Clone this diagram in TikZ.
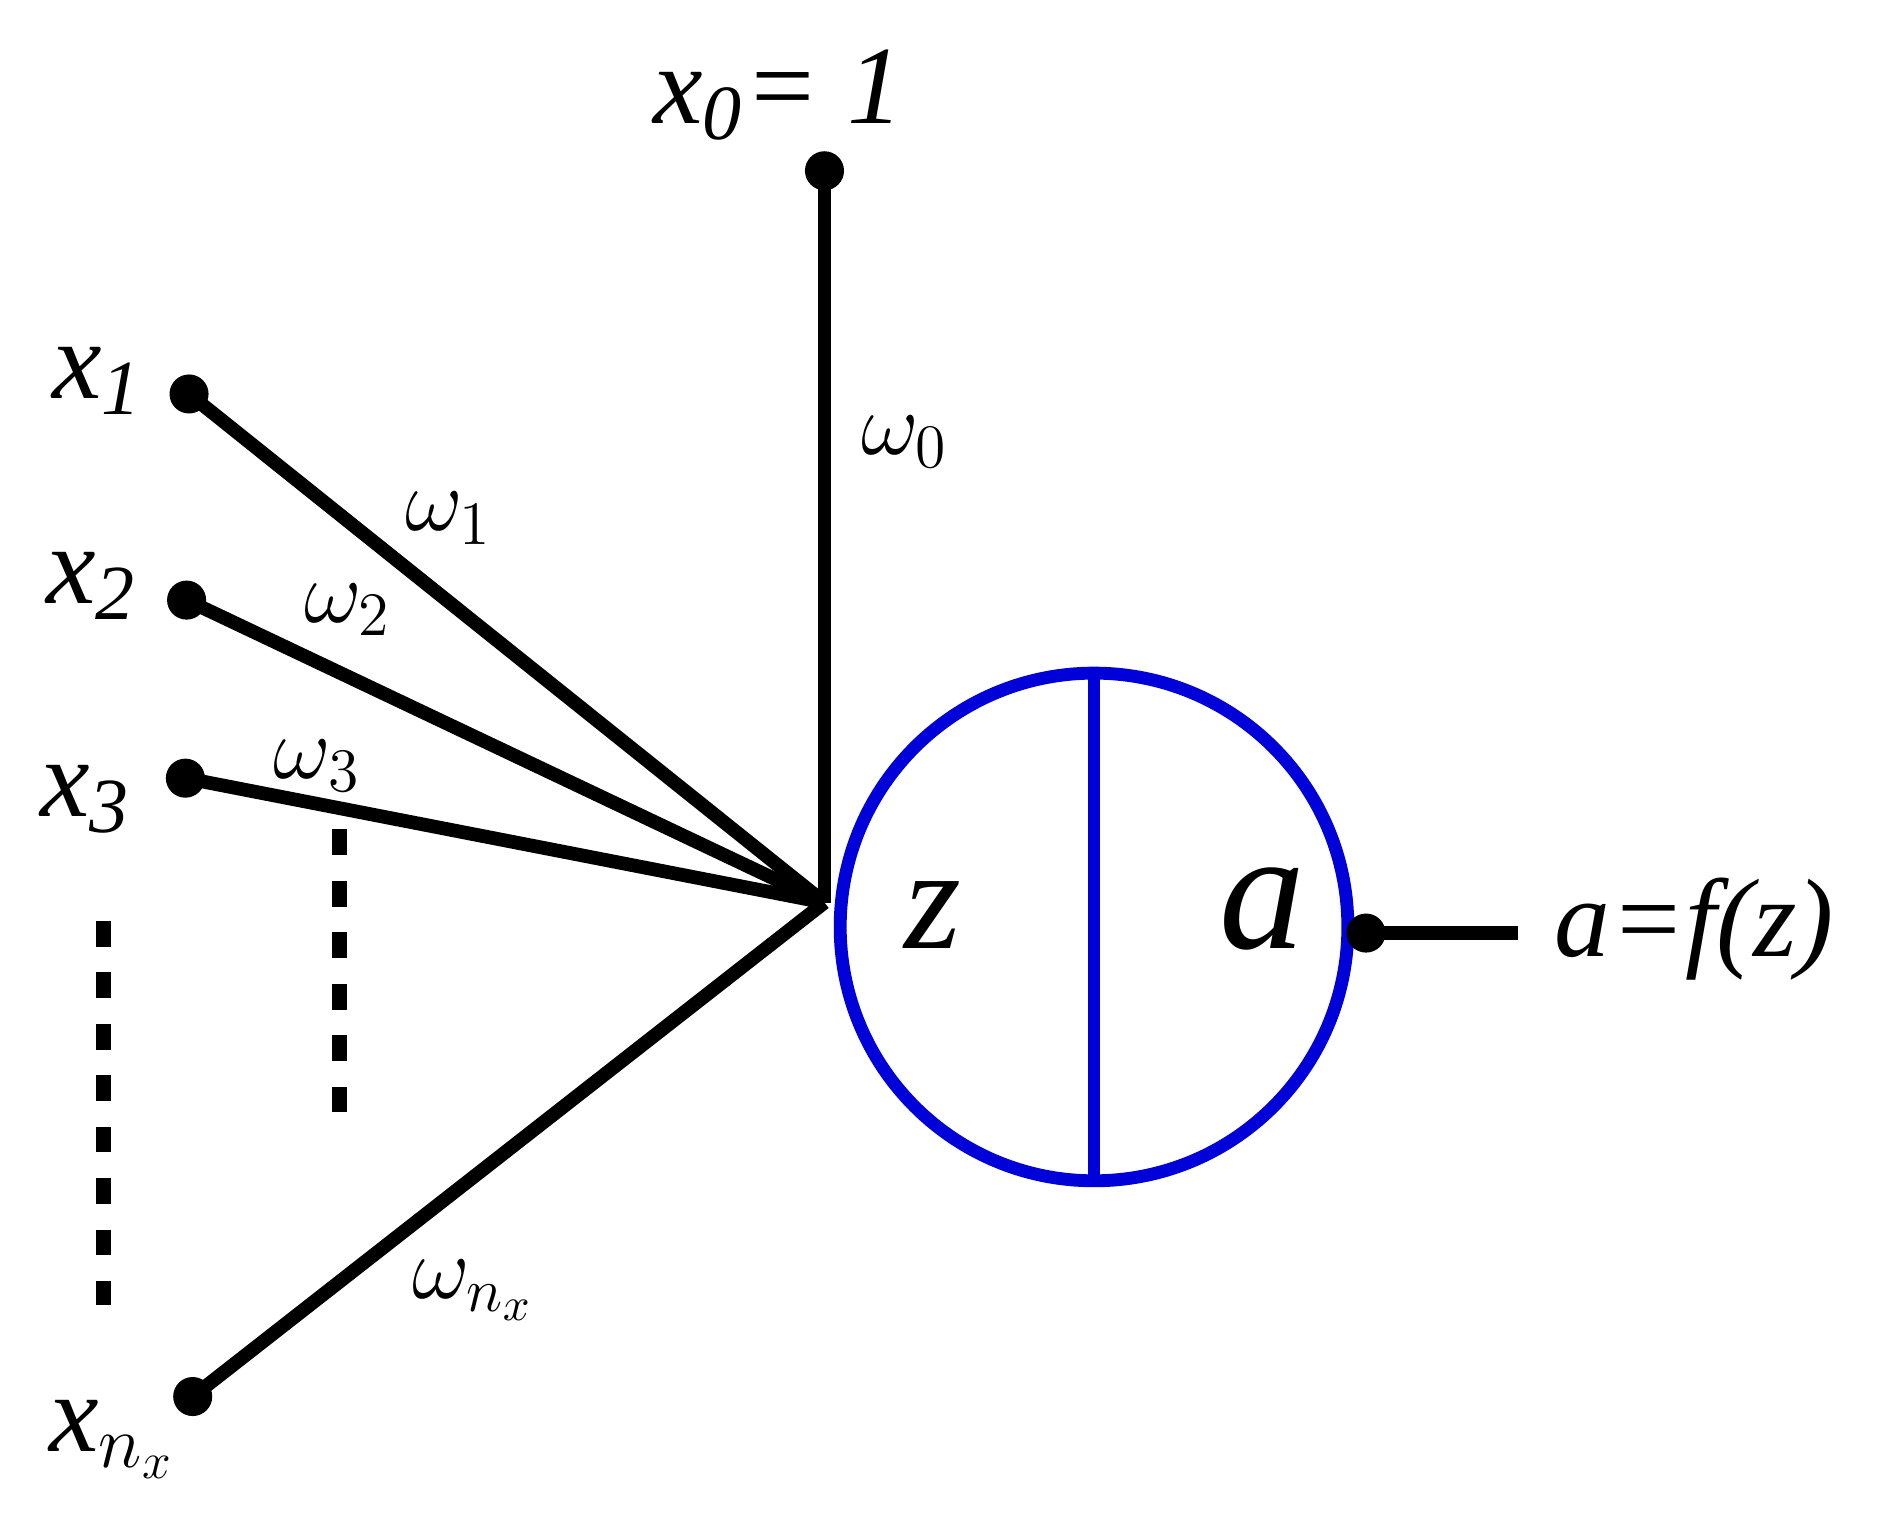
\documentclass[tikz,border=0pt]{standalone}
\usepackage{fontspec}
\setmainfont{Liberation Serif}
\begin{document}
\begin{tikzpicture}[x=0.01cm,y=-0.01cm,
  dot/.style={circle,fill=black,inner sep=0pt,minimum size=0.32cm},
  edge/.style={line width=3.2pt},
  blu/.style={draw=blue!85!black,line width=3pt},
  big/.style={font=\fontsize{26}{30}\selectfont\itshape},
  wl/.style={font=\fontsize{21}{25}\selectfont}]
\useasboundingbox (0,0) rectangle (1557,1253);
\node[dot] (x0) at (676,140) {};
\node[dot] (x1) at (155,323) {};
\node[dot] (x2) at (153,492) {};
\node[dot] (x3) at (152,638) {};
\node[dot] (xn) at (158,1145) {};
\coordinate (c) at (676,740);
\node[blu,circle,minimum size=4.16cm,inner sep=0pt] (n) at (897,760) {};
\draw[blu] (n.north) -- (n.south);
\draw[edge] (x0.center) -- (c);
\draw[edge] (x1.center) -- (c);
\draw[edge] (x2.center) -- (c);
\draw[edge] (x3.center) -- (c);
\draw[edge] (xn.center) -- (c);
\node[dot] (o) at (1120,765) {};
\coordinate (oe) at (1245,765);
\draw[edge] (o.center) -- (oe);
\draw[line width=3.5pt,dash pattern=on 6pt off 6pt] (85,755) -- (85,1070);
\draw[line width=3.5pt,dash pattern=on 6pt off 6pt] (278,680) -- (278,925);
\node[big] at (638,78) {x$_{\mathit{0}}$= 1};
\node[big] at (80,312) {x$_{\mathit{1}}$};
\node[big] at (75,480) {x$_{\mathit{2}}$};
\node[big] at (70,655) {x$_{\mathit{3}}$};
\node[big] at (92,1180) {x$_{n_x}$};
\node[font=\fontsize{34}{40}\selectfont\itshape] at (765,750) {z};
\node[font=\fontsize{40}{46}\selectfont\itshape] at (1035,745) {a};
\node[big,anchor=west] at (1262,762) {a=f(z)};
\node[wl] at (742,362) {$\omega_0$};
\node[wl] at (368,425) {$\omega_1$};
\node[wl] at (285,500) {$\omega_2$};
\node[wl] at (260,628) {$\omega_3$};
\node[wl] at (388,1058) {$\omega_{n_x}$};
\end{tikzpicture}
\end{document}
